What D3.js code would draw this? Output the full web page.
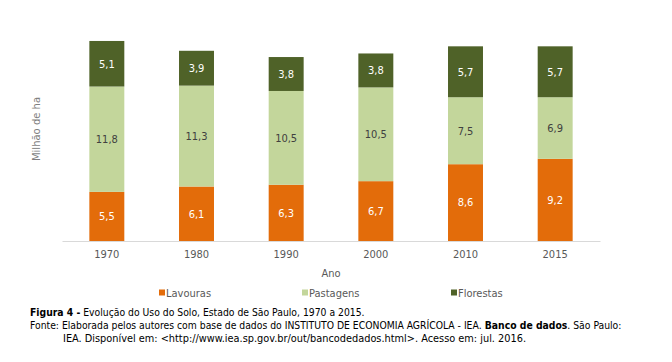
<!DOCTYPE html>
<html>
<head>
<meta charset="utf-8">
<script src="https://cdn.jsdelivr.net/npm/d3@7"></script>
<style>
  body { margin: 0; background: #fff; }
  svg { display: block; }
</style>
</head>
<body>
<svg width="672" height="362"></svg>
<script>
// valores (milhão de ha)
var anos = ["1970", "1980", "1990", "2000", "2010", "2015"];
var lavouras = [5.5, 6.1, 6.3, 6.7, 8.6, 9.2];
var pastagens = [11.8, 11.3, 10.5, 10.5, 7.5, 6.9];
var florestas = [5.1, 3.9, 3.8, 3.8, 5.7, 5.7];
var series = ["Lavouras", "Pastagens", "Florestas"];
var cores = ["#E36C0A", "#C3D69B", "#4F6228"];
var corTexto = ["#ffffff", "#404040", "#ffffff"];

var font = "'DejaVu Sans Condensed', 'DejaVu Sans', sans-serif";

var rows = anos.map(function(a, i) {
    return { ano: a, Lavouras: lavouras[i], Pastagens: pastagens[i], Florestas: florestas[i] };
});
var stack = d3.stack().keys(series)(rows);

var svg = d3.select("svg");

var x = d3.scaleBand().domain(anos).range([62, 600]).paddingInner(0.61).paddingOuter(0.305);
var y = d3.scaleLinear().domain([0, 25]).range([241, 241 - 25 * 8.93]);

var layers = svg.selectAll("g.layer")
    .data(stack)
    .enter().append("g")
    .attr("class", "layer")
    .style("fill", (d, i) => cores[i]);

layers.selectAll("rect")
    .data(d => d)
    .enter().append("rect")
    .attr("x", d => x(d.data.ano))
    .attr("width", x.bandwidth())
    .attr("y", d => y(d[1]))
    .attr("height", d => y(d[0]) - y(d[1]));

layers.each(function(s, i) {
    d3.select(this).selectAll("text")
        .data(s)
        .enter().append("text")
        .attr("x", d => x(d.data.ano) + x.bandwidth() / 2)
        .attr("y", d => (y(d[0]) + y(d[1])) / 2)
        .attr("dy", "0.35em")
        .attr("text-anchor", "middle")
        .style("fill", corTexto[i])
        .style("font-family", font)
        .style("font-size", "11px")
        .text(d => String(d.data[s.key]).replace(".", ","));
});

// eixo x
var xAxis = svg.append("g")
    .attr("transform", "translate(0,241)")
    .call(d3.axisBottom(x).tickSize(0).tickPadding(9));
xAxis.select(".domain").style("stroke", "#d9d9d9");
xAxis.selectAll("text")
    .style("fill", "#595959")
    .style("font-family", font)
    .style("font-size", "11px");

svg.append("text")
    .attr("x", 331).attr("y", 277)
    .attr("text-anchor", "middle")
    .style("fill", "#595959")
    .style("font-family", font)
    .style("font-size", "11px")
    .text("Ano");

svg.append("text")
    .attr("transform", "translate(40,129) rotate(-90)")
    .attr("text-anchor", "middle")
    .style("fill", "#7f7f7f")
    .style("font-family", "'DejaVu Sans', sans-serif")
    .style("font-size", "10px")
    .text("Milhão de ha");

// legenda
var legX = [159, 302, 451];
var leg = svg.selectAll("g.leg")
    .data(series)
    .enter().append("g")
    .attr("class", "leg")
    .attr("transform", (d, i) => "translate(" + legX[i] + ",293)");
leg.append("rect")
    .attr("x", 0).attr("y", -3.5)
    .attr("width", 6).attr("height", 6)
    .style("fill", (d, i) => cores[i]);
leg.append("text")
    .attr("x", 7).attr("dy", "0.35em")
    .style("fill", "#595959")
    .style("font-family", font)
    .style("font-size", "11px")
    .text(d => d);

// legenda da figura: pedaços em sequência, medidos um a um
var cap = svg.append("g")
    .style("font-family", font)
    .style("font-size", "10.3px")
    .style("fill", "#000");

function linha(x0, y0, partes) {
    var xx = x0;
    partes.forEach(function(p) {
        var t = cap.append("text")
            .attr("x", xx).attr("y", y0)
            .style("font-weight", p[1] ? "bold" : "normal")
            .style("white-space", "pre")
            .text(p[0]);
        xx += t.node().getComputedTextLength();
    });
}

linha(30, 316, [["Figura 4 -", true], [" Evolução do Uso do Solo, Estado de São Paulo, 1970 a 2015.", false]]);
linha(30, 329, [
    ["Fonte: Elaborada pelos autores com base de dados do INSTITUTO DE ECONOMIA AGRÍCOLA - IEA.", false],
    [" Banco de dados", true],
    [". São Paulo:", false]
]);
cap.append("text").attr("x", 63).attr("y", 342)
    .attr("textLength", 463).attr("lengthAdjust", "spacingAndGlyphs")
    .text("IEA. Disponível em: <http://www.iea.sp.gov.br/out/bancodedados.html>. Acesso em: jul. 2016.");
</script>
</body>
</html>
